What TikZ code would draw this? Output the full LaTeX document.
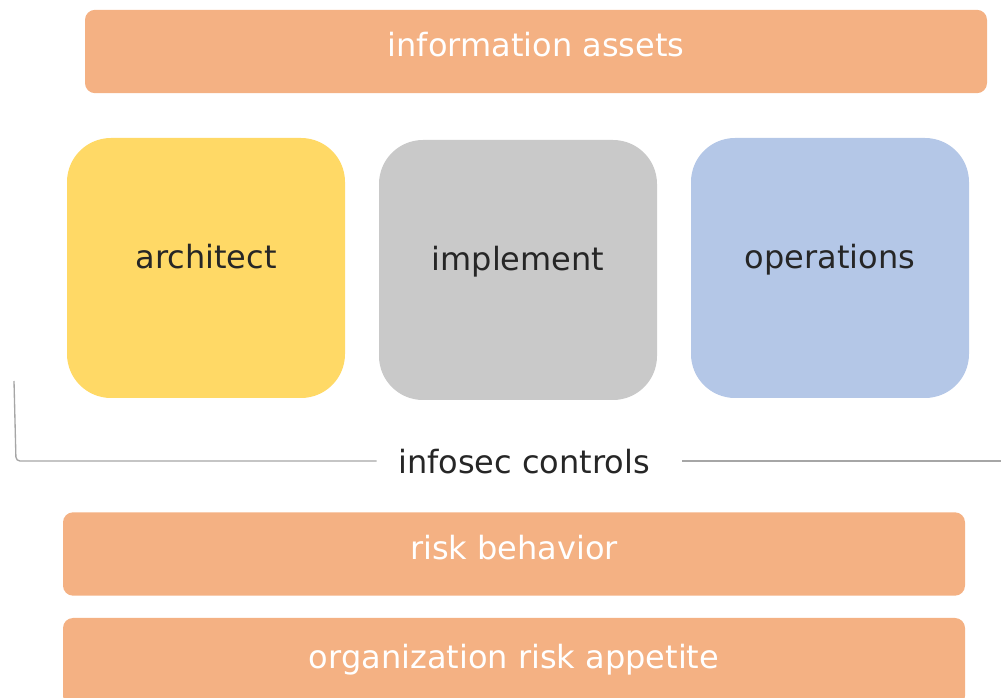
\documentclass[tikz,border=0pt]{standalone}
\usepackage{fontspec}
\setmainfont{DejaVu Sans}
\usetikzlibrary{positioning}
\definecolor{barorange}{HTML}{F4B183}
\definecolor{archyellow}{HTML}{FFD966}
\definecolor{implgray}{HTML}{C9C9C9}
\definecolor{opsblue}{HTML}{B4C7E7}
\definecolor{inktext}{HTML}{262626}
\definecolor{linegray}{HTML}{A6A6A6}
\tikzset{
  drop/.style={text height=17pt, text depth=#1},
  bar/.style={rectangle, rounded corners=7.5pt, fill=barorange, text=white,
    minimum width=676.5pt, minimum height=62.5pt, font=\fontsize{24}{28}\selectfont},
  block/.style={rectangle, rounded corners=33pt, text=inktext,
    minimum width=208.5pt, minimum height=195pt, font=\fontsize{24}{28}\selectfont}
}
\begin{document}
\begin{tikzpicture}[x=0.75pt, y=-0.75pt]
        \useasboundingbox (0, 0) rectangle (1001, 698);
        \node[bar, drop=8.75pt] at (536, 51.5)(assets){information assets};
        \node[block, drop=15.5pt, fill=archyellow] at (206, 268)(arch){architect};
        \node[block, drop=16pt, fill=implgray] at (518, 270)(impl){implement};
        \node[block, drop=15.5pt, fill=opsblue] at (830, 268)(ops){operations};
        \node[font=\fontsize{24}{28}\selectfont, text=inktext, inner sep=0pt, anchor=base] at (524, 474)(ctrl){infosec controls};
        \node[bar, drop=8pt] at (514, 554)(behavior){risk behavior};
        \node[bar, drop=6.5pt, minimum height=66pt] at (514, 662)(appetite){organization risk appetite};
        \coordinate (bracetop) at (14, 381);
        \coordinate (braceend) at (1001, 461);

        \draw[linegray, line width=1pt, rounded corners=3pt]
            (bracetop) -- (16, 461) -- ([xshift=-16pt]ctrl.west |- braceend);
        \draw[linegray, line width=1pt]
            ([xshift=24pt]ctrl.east |- braceend) -- (braceend);
    \end{tikzpicture}
\end{document}
